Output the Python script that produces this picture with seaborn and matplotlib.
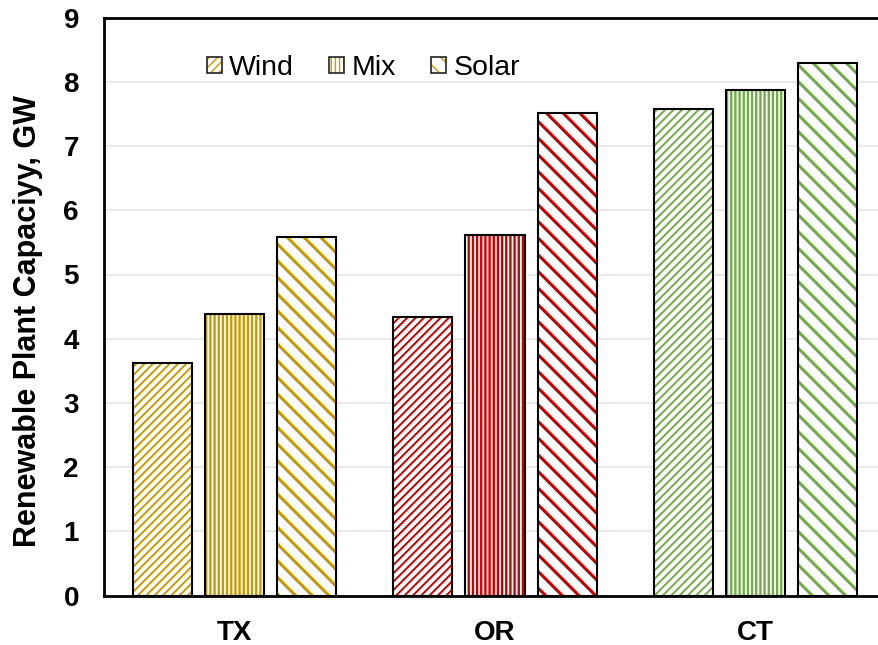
import matplotlib
matplotlib.use("Agg")
import matplotlib.pyplot as plt
from matplotlib.patches import Patch
from matplotlib.legend_handler import HandlerTuple
import seaborn as sns
import pandas as pd

# Renewable plant capacity (GW) by state and resource mix
states = ["TX", "OR", "CT"]
plant_types = ["Wind", "Mix", "Solar"]
wind_gw = [3.62, 4.34, 7.58]
mix_gw = [4.39, 5.62, 7.87]
solar_gw = [5.58, 7.52, 8.30]
y_ticks = [0, 1, 2, 3, 4, 5, 6, 7, 8, 9]

state_colors = {"TX": "#C99A00", "OR": "#C80000", "CT": "#70AD47"}
type_hatch = {"Wind": "////", "Mix": "||||", "Solar": "\\\\"}
type_hatch_lw = {"Wind": 1.4, "Mix": 1.7, "Solar": 2.2}

df = pd.DataFrame({
    "state": states * 3,
    "type": ["Wind"] * 3 + ["Mix"] * 3 + ["Solar"] * 3,
    "gw": wind_gw + mix_gw + solar_gw,
})

sns.set_theme(style="white")
plt.rcParams["font.family"] = ["Liberation Sans", "DejaVu Sans"]
plt.rcParams["text.color"] = "black"
plt.rcParams["xtick.color"] = "black"
plt.rcParams["ytick.color"] = "black"
plt.rcParams["axes.labelcolor"] = "black"

fig = plt.figure(figsize=(8.79, 6.45), dpi=100)
ax = fig.add_axes([104 / 879, 1 - 595.5 / 645, (886 - 104) / 879, (595.5 - 17.7) / 645])

ax.set_axisbelow(True)
ax.yaxis.grid(True, color="#E6E6E6", linewidth=1.2)

bar_kw = dict(data=df, x="state", y="gw", hue="type", order=states,
              hue_order=plant_types, width=0.83, gap=0.18, legend=False, ax=ax)

# hatched fill layer: stripes in the state colour on white
sns.barplot(palette=["white"] * 3, linewidth=0, **bar_kw)
for ptype, cont in zip(plant_types, ax.containers):
    for st, bar in zip(states, cont):
        bar.set_facecolor("white")
        bar.set_edgecolor(state_colors[st])
        bar.set_linewidth(0)
        bar.set_hatch(type_hatch[ptype])
        if hasattr(bar, "set_hatch_linewidth"):
            bar.set_hatch_linewidth(type_hatch_lw[ptype])

# outline layer
n_before = len(ax.containers)
sns.barplot(fill=False, palette=["black"] * 3, linewidth=1.5, **bar_kw)
for cont in ax.containers[n_before:]:
    for bar in cont:
        bar.set_edgecolor("black")
        bar.set_linewidth(1.5)

ax.set_ylim(0, 9)
ax.set_xlim(-0.5, 2.5)
ax.set_yticks(y_ticks)
ax.set_yticklabels([str(t) for t in y_ticks])
ax.tick_params(axis="both", length=0, labelsize=20, labelcolor="black")
ax.tick_params(axis="y", pad=18)
ax.tick_params(axis="x", pad=18)
for lbl in ax.get_xticklabels() + ax.get_yticklabels():
    lbl.set_fontweight("bold")
ax.set_xlabel("")
ax.set_ylabel("Renewable Plant Capaciyy, GW", fontsize=22, fontweight="bold", color="black")
ax.yaxis.set_label_coords((43 - 104) / 782, 0.475)

for side in ["left", "bottom", "top", "right"]:
    ax.spines[side].set_color("black")
    ax.spines[side].set_linewidth(2)

# legend with hatched gold swatches and dark outline
handles = []
for ptype in plant_types:
    h_fill = Patch(facecolor="white", edgecolor=state_colors["TX"], linewidth=0,
                   hatch=type_hatch[ptype])
    h_edge = Patch(facecolor="none", edgecolor="#222222", linewidth=1.2)
    handles.append((h_fill, h_edge))
fig.legend(handles, plant_types, handler_map={tuple: HandlerTuple(ndivide=1)},
           loc="center left", bbox_to_anchor=(207 / 879, 1 - 68 / 645),
           ncol=3, frameon=False, fontsize=20.5, handlelength=0.52, handleheight=0.52,
           handletextpad=0.25, columnspacing=1.25, borderpad=0, borderaxespad=0)

fig.savefig("out.png", dpi=100)
